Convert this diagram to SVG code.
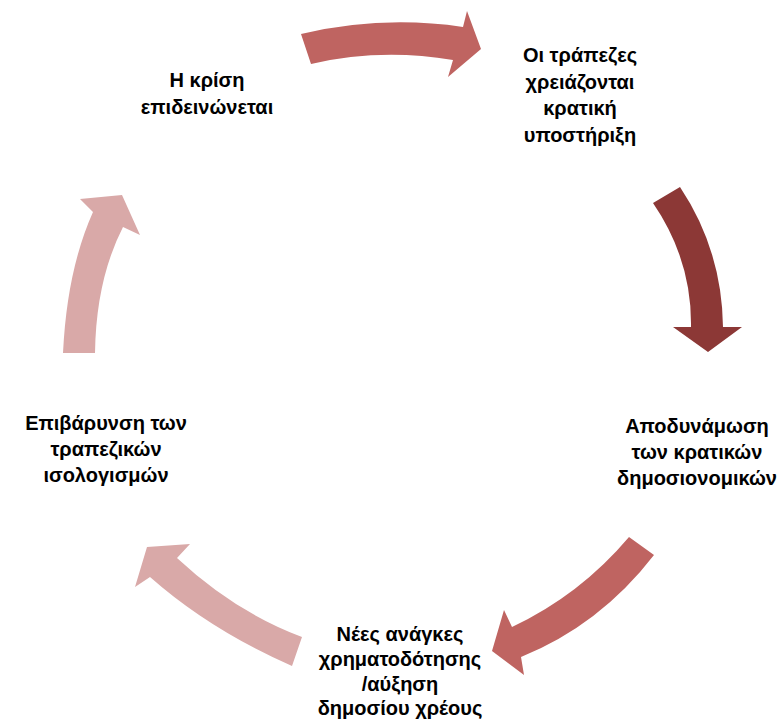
<svg xmlns="http://www.w3.org/2000/svg" width="783" height="720" viewBox="0 0 783 720">
<style>
text{font-family:"Liberation Sans","Noto Sans",sans-serif;font-weight:bold;font-size:20px;fill:#000;text-anchor:middle}
.a1{fill:#BF6461}.a2{fill:#8C3836}.a3{fill:#D9A9A8}
</style>
<rect width="783" height="720" fill="#fff"/>
<g id="connectors">
<path class="a1" d="M301,34 Q382,15 463,27 L467,11 L481,49 L448,77 L453,60 Q380,48 311,64 Z"/>
<path class="a2" d="M653,203 L680,187 Q722,250 723,327 L742,327 L708,352 L673,327 L691,327 Q692,260 653,203 Z"/>
<path class="a1" d="M629,537 L654,555 Q600,625 521,657 L524,675 L492,651 L504,610 L512,627 Q580,595 629,537 Z"/>
<path class="a3" d="M302,637 L292,666 Q210,630 150,577 L135,587 L147,547 L190,544 L177,558 Q235,612 302,637 Z"/>
<path class="a3" d="M63,353 L95,353 Q96,280 123,227 L140,235 L122,195 L80,199 L93,212 Q67,270 63,353 Z"/>
</g>
<g id="n1"><text x="207" y="87">Η κρίση</text><text x="207" y="114">επιδεινώνεται</text></g>
<g id="n2"><text x="580" y="62">Οι τράπεζες</text><text x="580" y="89">χρειάζονται</text><text x="580" y="115">κρατική</text><text x="580" y="142">υποστήριξη</text></g>
<g id="n3"><text x="697" y="433">Αποδυνάμωση</text><text x="697" y="459">των κρατικών</text><text x="697" y="485">δημοσιονομικών</text></g>
<g id="n4"><text x="400" y="641">Νέες ανάγκες</text><text x="400" y="666">χρηματοδότησης</text><text x="400" y="691">/αύξηση</text><text x="400" y="715">δημοσίου χρέους</text></g>
<g id="n5"><text x="106" y="430">Επιβάρυνση των</text><text x="106" y="456">τραπεζικών</text><text x="106" y="482">ισολογισμών</text></g>
</svg>
